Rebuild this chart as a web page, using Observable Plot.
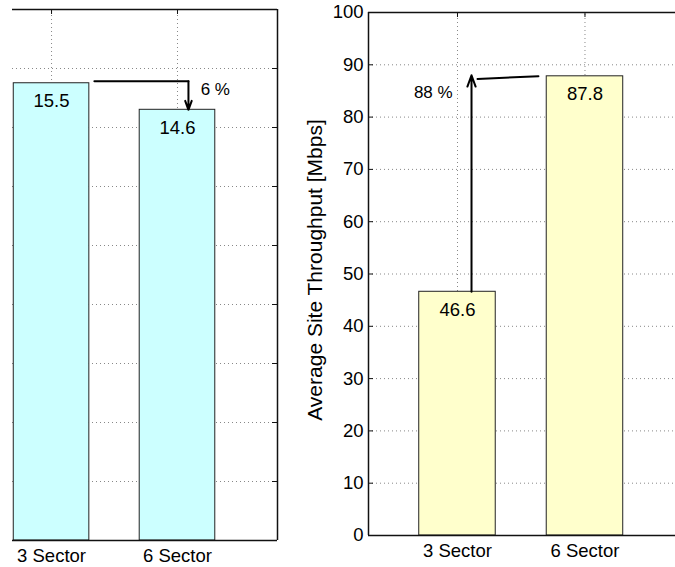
<!DOCTYPE html>
<html>
<head>
<meta charset="utf-8">
<script src="https://cdn.jsdelivr.net/npm/d3@7"></script>
<script src="https://cdn.jsdelivr.net/npm/@observablehq/plot@0.6"></script>
<style>
  html, body { margin: 0; padding: 0; background: #fff; }
  #wrap { position: relative; width: 675px; height: 567px; overflow: hidden; font-family: "Liberation Sans", Arial, sans-serif; }
  #wrap svg { position: absolute; top: 0; background: transparent; overflow: visible; }
</style>
</head>
<body>
<div id="wrap"></div>
<script>
// ---- data ----
const categories = ["3 Sector", "6 Sector"];
const positions = [1, 2];
const leftValues = [15.5, 14.6];
const rightValues = [46.6, 87.8];
const leftTicks = [0, 2, 4, 6, 8, 10, 12, 14, 16, 18];
const rightTicks = [0, 10, 20, 30, 40, 50, 60, 70, 80, 90, 100];
const yLabel = "Average Site Throughput [Mbps]";
// annotations
const leftArrowLine = [{x: 1.34, y: 15.57}, {x: 2.087, y: 15.57}];
const leftArrow = [{x1: 2.087, y1: 15.57, x2: 2.087, y2: 14.6}];
const leftNote = [{x: 2.30, y: 15.27, text: "6 %"}];
const rightArrow = [{x1: 1.11, y1: 46.6, x2: 1.11, y2: 88.0}];
const rightArrowLine = [{x: 1.157, y: 87.3}, {x: 1.635, y: 87.8}];
const rightNote = [{x: 0.81, y: 84.7, text: "88 %"}];

const FONT = "Liberation Sans, Arial, sans-serif";
const wrap = document.getElementById("wrap");

function panel({values, ticks, yMax, xDomain, width, left, marginLeft, marginRight, marginTop, marginBottom, fill, extra, yAxis}) {
  const data = positions.map((p, i) => ({pos: p, name: categories[i], value: values[i]}));
  const xs = (xDomain[1] - xDomain[0]) / (width - marginLeft - marginRight); // units per px
  const ys = yMax / (567 - marginTop - marginBottom);
  const tk = 5; // tick length px
  const marks = [
    // dotted grid
    Plot.ruleY(ticks.filter(t => t > 0 && t < yMax), {y: d => d, stroke: "#888", strokeWidth: 1, strokeDasharray: "1,3"}),
    Plot.ruleX(positions, {x: d => d, y1: 0, y2: yMax, stroke: "#888", strokeWidth: 1, strokeDasharray: "1,3"}),
    // bars
    Plot.rect(data, {x1: d => d.pos - 0.3, x2: d => d.pos + 0.3, y1: 0, y2: "value", fill, stroke: "#222", strokeWidth: 1}),
    Plot.text(data, {x: "pos", y: "value", text: d => d.value.toFixed(1), dy: 18, fontSize: 18.5, fill: "#000"}),
    // ticks along top edge (inward)
    Plot.ruleX(positions, {x: d => d, y1: yMax, y2: yMax - tk * ys, stroke: "#111", strokeWidth: 1}),
  ];
  if (yAxis === "right") {
    marks.push(Plot.ruleY(ticks, {y: d => d, x1: xDomain[1], x2: xDomain[1] - tk * xs, stroke: "#111", strokeWidth: 1}));
    marks.push(Plot.ruleX([xDomain[1]], {x: d => d, y1: 0, y2: yMax, stroke: "#111", strokeWidth: 1.5}));
  } else {
    marks.push(Plot.ruleY(ticks, {y: d => d, x1: xDomain[0], x2: xDomain[0] + tk * xs, stroke: "#111", strokeWidth: 1}));
    marks.push(Plot.ruleX([xDomain[0]], {x: d => d, y1: 0, y2: yMax, stroke: "#111", strokeWidth: 1.5}));
    marks.push(Plot.axisY(ticks, {anchor: "left", tickSize: 0, tickPadding: 5, fontSize: 18.5, label: null, fontFamily: FONT}));
    marks.push(Plot.text([yLabel], {frameAnchor: "left", textAnchor: "middle", dx: -53, dy: -4, rotate: -90, fontSize: 21, fill: "#000", text: d => d}));
  }
  // top / bottom frame lines
  marks.push(Plot.ruleY([0, yMax], {y: d => d, stroke: "#111", strokeWidth: 1.6}));
  marks.push(Plot.axisX(positions, {anchor: "bottom", tickSize: 0, tickPadding: 8, fontSize: 18.5, tickFormat: d => categories[d - 1], label: null}));
  marks.push(...extra);
  const chart = Plot.plot({
    width, height: 567,
    marginLeft, marginRight, marginTop, marginBottom,
    style: {fontFamily: FONT, fontSize: "18px", color: "#000", background: "transparent"},
    x: {domain: xDomain, axis: null},
    y: {domain: [0, yMax], axis: null},
    marks
  });
  chart.style.left = left + "px";
  wrap.appendChild(chart);
}

// Left panel (cropped on the left side)
panel({
  values: leftValues, ticks: leftTicks, yMax: 18,
  xDomain: [0.69, 2.794], width: 282, left: 0, marginLeft: 12, marginRight: 5,
  marginTop: 9, marginBottom: 27, fill: "#ccffff", yAxis: "right",
  extra: [
    Plot.line(leftArrowLine, {x: "x", y: "y", stroke: "#000", strokeWidth: 2}),
    Plot.arrow(leftArrow, {x1: "x1", y1: "y1", x2: "x2", y2: "y2", stroke: "#000", strokeWidth: 2, headLength: 9, headAngle: 40}),
    Plot.text(leftNote, {x: "x", y: "y", text: "text", fontSize: 17, fill: "#000"})
  ]
});

// Right panel (cropped on the right side)
panel({
  values: rightValues, ticks: rightTicks, yMax: 100,
  xDomain: [0.302, 2.71], width: 375, left: 300, marginLeft: 68, marginRight: 0,
  marginTop: 12, marginBottom: 32, fill: "#ffffcc", yAxis: "left",
  extra: [
    Plot.arrow(rightArrow, {x1: "x1", y1: "y1", x2: "x2", y2: "y2", stroke: "#000", strokeWidth: 2, headLength: 9, headAngle: 40}),
    Plot.line(rightArrowLine, {x: "x", y: "y", stroke: "#000", strokeWidth: 2}),
    Plot.text(rightNote, {x: "x", y: "y", text: "text", fontSize: 17, fill: "#000"})
  ]
});
</script>
</body>
</html>
